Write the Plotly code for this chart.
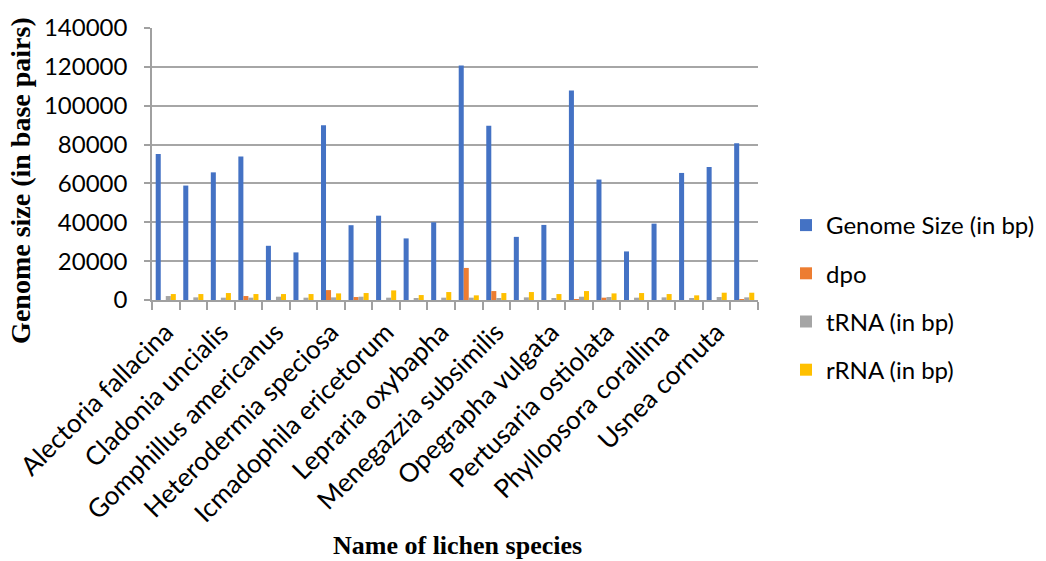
import plotly.graph_objects as go

species = [
    "Alectoria fallacina", "Bryoria fuscescens", "Cladonia uncialis", "Dibaeis baeomyces",
    "Gomphillus americanus", "Graphis scripta", "Heterodermia speciosa", "Hypogymnia physodes",
    "Icmadophila ericetorum", "Lasallia pustulata", "Lepraria oxybapha", "Lobaria pulmonaria",
    "Menegazzia subsimilis", "Nephroma helveticum", "Opegrapha vulgata", "Peltigera membranacea",
    "Pertusaria ostiolata", "Phlyctis argena", "Phyllopsora corallina", "Sphaerophorus globosus",
    "Usnea cornuta", "Xanthoria parietina",
]
genome_size = [75100, 58900, 65700, 73900, 27900, 24500, 89900, 38500, 43400, 31700, 40000,
               120700, 89700, 32500, 38650, 107800, 62000, 25000, 39300, 65400, 68500, 80700]
dpo = [0, 0, 0, 2040, 0, 0, 5100, 1530, 0, 0, 0,
       16500, 4600, 0, 0, 200, 1200, 0, 0, 0, 0, 500]
trna = [2040, 1360, 1200, 1200, 1700, 1200, 1360, 1700, 1200, 850, 1200,
        1200, 1000, 1360, 1000, 1700, 1530, 1200, 1360, 1000, 1530, 1360]
rrna = [3065, 3065, 3580, 3065, 3065, 3065, 3400, 3580, 4940, 2550, 4090,
        2400, 3580, 4090, 3065, 4600, 3400, 3580, 3065, 2400, 3750, 3750]
shown_labels = [s if i % 2 == 0 else "" for i, s in enumerate(species)]
y_ticks = [0, 20000, 40000, 60000, 80000, 100000, 120000, 140000]

series = [
    ("Genome Size (in bp)", genome_size, "#4472C4"),
    ("dpo", dpo, "#ED7D31"),
    ("tRNA (in bp)", trna, "#A5A5A5"),
    ("rRNA (in bp)", rrna, "#FFC000"),
]

fig = go.Figure()
for i, (name, vals, color) in enumerate(series):
    fig.add_trace(go.Bar(x=species, y=vals, name=name, marker_color=color,
                         marker_line_width=0, legendgroup=f"g{i}"))

W, H = 1046, 561
L, R, T, B = 152, 758, 26, 300

fig.update_layout(
    width=W, height=H,
    margin=dict(l=L, r=W - R, t=T, b=H - B),
    paper_bgcolor="white", plot_bgcolor="white",
    barmode="group", bargap=0.27, bargroupgap=0,
    font=dict(family="Lato", size=22, color="#000000"),
    legend=dict(
        xref="container", yref="container",
        x=786 / W, y=1 - 203 / H, xanchor="left", yanchor="top",
        font=dict(family="Lato", size=24, color="#000000"),
        traceorder="grouped", tracegroupgap=14, bgcolor="rgba(0,0,0,0)",
        borderwidth=0,
    ),
    xaxis=dict(
        type="category", tickmode="array", tickvals=species, ticktext=shown_labels,
        tickangle=-45, tickson="boundaries", ticks="outside", ticklen=8,
        tickcolor="#a0a0a0", tickwidth=1.5, showline=True, linecolor="#a0a0a0",
        linewidth=1.5, showgrid=False, tickfont=dict(family="Lato", size=26),
        ticklabelstandoff=5,
    ),
    yaxis=dict(
        range=[0, 140000], tickmode="array", tickvals=y_ticks,
        ticktext=[str(v) for v in y_ticks], ticks="outside", ticklen=6,
        tickcolor="#a0a0a0", tickwidth=1.5, showline=True, linecolor="#a0a0a0",
        linewidth=1.5, showgrid=True, gridcolor="#a6a6a6", gridwidth=1.5,
        zeroline=False, tickfont=dict(family="Lato", size=24), ticklabelstandoff=12,
    ),
    annotations=[
        dict(text="<b>Genome size (in base pairs)</b>", textangle=-90,
             xref="paper", yref="paper", x=(21 - L) / (R - L), y=(B - 180) / (B - T),
             xanchor="center", yanchor="middle", showarrow=False,
             font=dict(family="Liberation Serif", size=28, color="#000000")),
        dict(text="<b>Name of lichen species</b>",
             xref="paper", yref="paper", x=(457 - L) / (R - L), y=(B - 547) / (B - T),
             xanchor="center", yanchor="middle", showarrow=False,
             font=dict(family="Liberation Serif", size=26, color="#000000")),
    ],
)

fig.write_html("out.html", config={"displayModeBar": False},
               post_script="document.body.style.margin='0';")
